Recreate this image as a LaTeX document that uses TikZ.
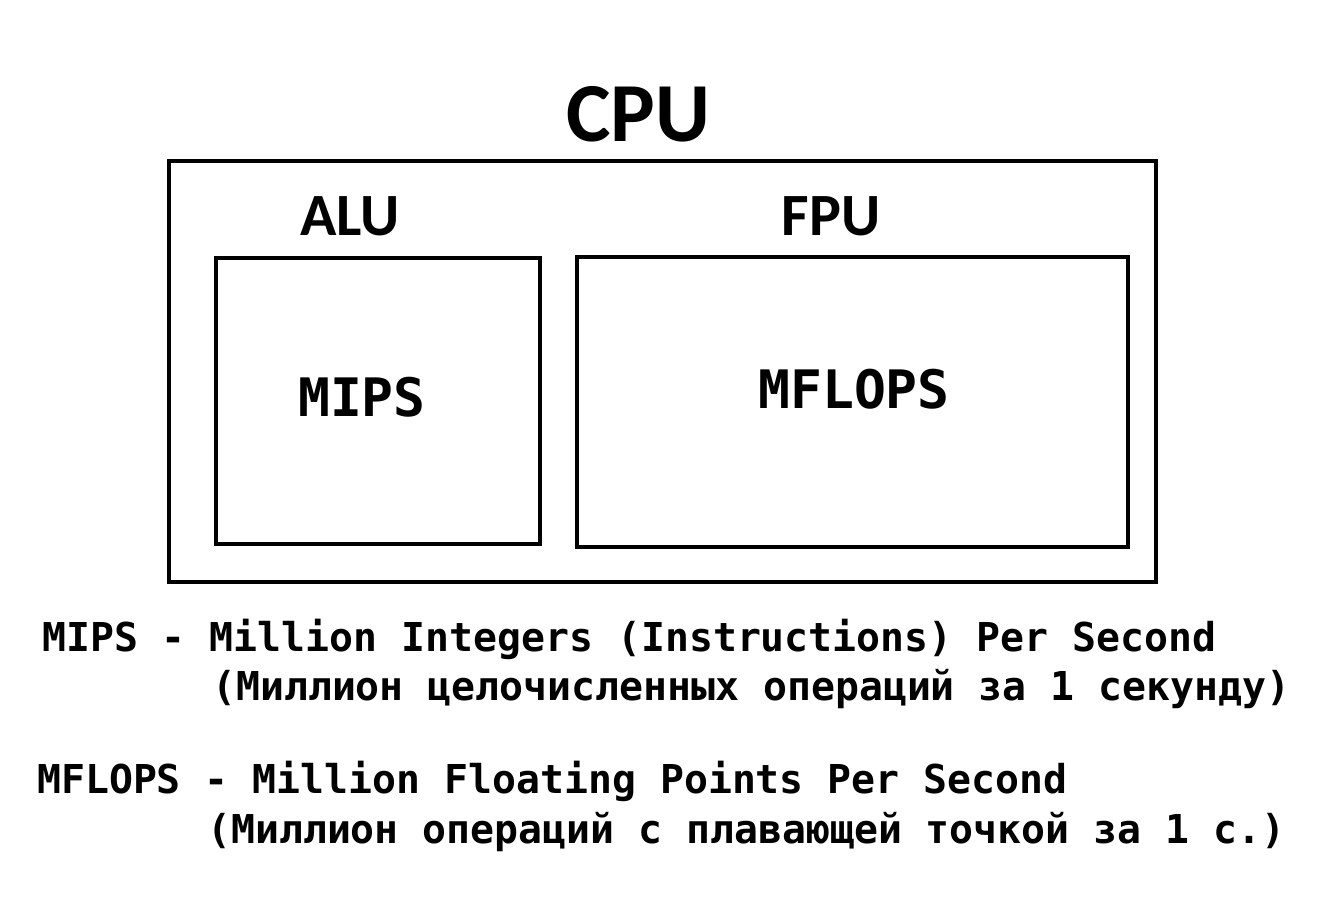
\documentclass[tikz,border=0pt]{standalone}
\usepackage{fontspec}
\setmainfont{Carlito}
\newfontfamily\monofont{DejaVu Sans Mono}
\begin{document}
\begin{tikzpicture}[x=1pt,y=-1pt,
  frame/.style={draw,line width=4pt,inner sep=0,outer sep=0,anchor=north west},
  title/.style={font=\bfseries\fontsize{#1}{#1}\selectfont,inner sep=0,anchor=base},
  unit/.style={font=\monofont\bfseries\fontsize{53}{53}\selectfont,inner sep=0,anchor=base},
  note/.style={font=\monofont\bfseries\fontsize{39.8}{40}\selectfont,inner sep=0,anchor=base west}]
\useasboundingbox[fill=white] (0,0) rectangle (1338,898);
% processor and its two units
\node[frame,minimum width=987pt,minimum height=421pt] (cpu) at (169,161) {};
\node[frame,minimum width=324pt,minimum height=286pt] (alu) at (216,258) {};
\node[frame,minimum width=551pt,minimum height=290pt] (fpu) at (577,257) {};
\node[title=84] (cputitle) at (638,141) {CPU};
\node[title=60] (alutitle) at (350,235) {ALU};
\node[title=60] (fputitle) at (831,235) {FPU};
\node[unit] (mips) at (362,416) {MIPS};
\node[unit] (mflops) at (854,408) {MFLOPS};
% explanations
\node[note] (l1) at (42,651) {MIPS - Million Integers (Instructions) Per Second};
\node[note] (l2) at (212,700) {(Миллион целочисленных операций за 1 секунду)};
\node[note] (l3) at (37,793) {MFLOPS - Million Floating Points Per Second};
\node[note] (l4) at (207,843) {(Миллион операций с плавающей точкой за 1 с.)};
\end{tikzpicture}
\end{document}
